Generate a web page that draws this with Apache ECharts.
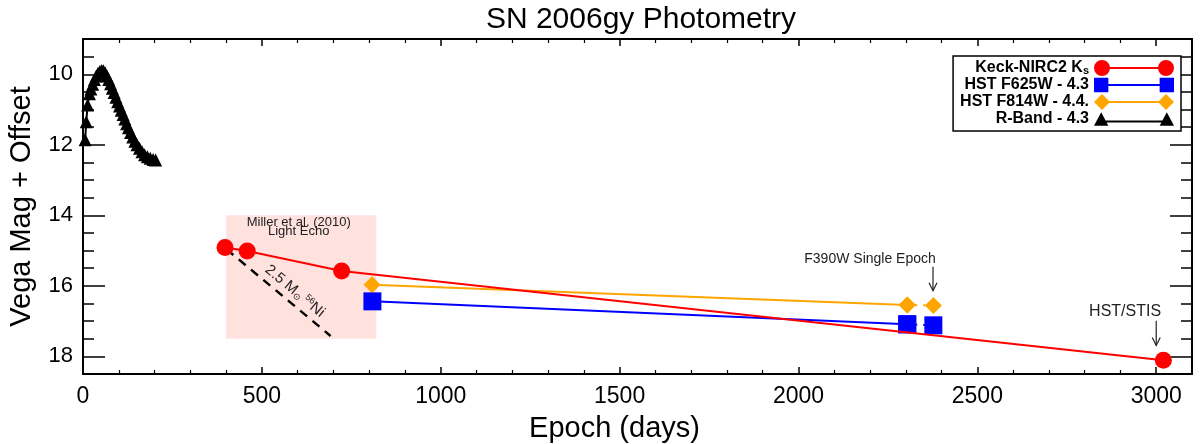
<!DOCTYPE html>
<html>
<head>
<meta charset="utf-8">
<title>SN 2006gy Photometry</title>
<script src="https://cdn.jsdelivr.net/npm/echarts@6/dist/echarts.min.js"></script>
<style>
  html, body { margin: 0; padding: 0; background: #fff; }
  #main { width: 1200px; height: 444px; }
</style>
</head>
<body>
<div id="main"></div>
<script>
// data (epoch in days, Vega mag + offset)
const keckDays = [397, 459, 723, 3020]
const keckMag = [14.91, 15.01, 15.58, 18.11]
const f625Days = [809, 2304, 2377]
const f625Mag = [16.44, 17.09, 17.12]
const f814Days = [808, 2304, 2377]
const f814Mag = [15.97, 16.54, 16.56]
const rDays = [6, 9, 13, 18, 22, 27, 32, 37, 42, 47, 52, 57, 62, 67, 72, 77, 82, 87, 92, 97, 102, 107,
  112, 117, 122, 127, 133, 139, 145, 151, 158, 165, 172, 180, 188, 196, 203]
const rMag = [11.86, 11.35, 10.87, 10.55, 10.42, 10.28, 10.15, 10.05, 9.97, 9.92, 9.89, 9.9, 9.96, 10.05,
  10.15, 10.27, 10.4, 10.52, 10.65, 10.78, 10.9, 11.02, 11.14, 11.27, 11.4, 11.52, 11.65, 11.78, 11.9,
  12.0, 12.1, 12.2, 12.28, 12.34, 12.38, 12.42, 12.43]
const niDays = [401, 692]
const niMag = [14.96, 17.42]
const echoDays = [400, 820]
const echoMag = [14, 17.5]
const yTicks = [10, 12, 14, 16, 18]

const FONT = 'Liberation Sans, Arial, Helvetica, sans-serif'

function pairs(xs, ys) {
  return xs.map((x, i) => [x, ys[i]])
}

const keckName = 'Keck-NIRC2 Ks'
// marker - line - marker, all drawn clockwise so the pieces do not cancel out
const legendIcons = {
  circle: 'path://M0,8a8,8 0 1,1 16,0a8,8 0 1,1 -16,0Z M64,8a8,8 0 1,1 16,0a8,8 0 1,1 -16,0Z M15,7H65V9H15Z',
  square: 'path://M1,1H15V15H1Z M65,1H79V15H65Z M15,7H65V9H15Z',
  diamond: 'path://M0,8L8,0L16,8L8,16Z M64,8L72,0L80,8L72,16Z M8,7H72V9H8Z',
  triangle: 'path://M1,15L8,2L15,15Z M65,15L72,2L79,15Z M8,10H72V12H8Z'
}

function yAxisBase(pos, len, custom) {
  let ax = {
    type: 'value',
    position: pos,
    inverse: true,
    min: 9,
    max: 18.5,
    axisLine: { show: true, lineStyle: { color: '#000', width: 1.8 } },
    splitLine: { show: false },
    axisTick: { show: true, inside: true, length: len, lineStyle: { color: '#000', width: 1.5 } },
    axisLabel: { show: false }
  }
  if (custom) {
    ax.axisTick.customValues = yTicks
  } else {
    ax.interval = 0.5
  }
  return ax
}

function xAxisBase(pos) {
  return {
    type: 'value',
    position: pos,
    min: 0,
    max: 3100,
    interval: 500,
    axisLine: { show: true, lineStyle: { color: '#000', width: 1.8 } },
    splitLine: { show: false },
    axisTick: { show: true, inside: true, length: 7, lineStyle: { color: '#000', width: 1.5 } },
    minorTick: { show: true, splitNumber: 5, length: 4, lineStyle: { color: '#000', width: 1.2 } },
    axisLabel: { show: false }
  }
}

let yLeft = yAxisBase('left', 22, true)
yLeft.axisLabel = {
  show: true,
  customValues: yTicks,
  color: '#000',
  fontSize: 22,
  fontFamily: FONT,
  margin: 10
}
yLeft.name = 'Vega Mag + Offset'
yLeft.nameLocation = 'middle'
yLeft.nameGap = 47
yLeft.nameTextStyle = { color: '#000', fontSize: 29, fontFamily: FONT }

let xBottom = xAxisBase('bottom')
xBottom.axisLabel = {
  show: true,
  color: '#000',
  fontSize: 23,
  fontFamily: FONT,
  margin: 11,
  formatter: v => (v % 500 === 0 ? String(v) : '')
}
xBottom.name = 'Epoch (days)'
xBottom.nameLocation = 'middle'
xBottom.nameGap = 40
xBottom.nameTextStyle = { color: '#000', fontSize: 29, fontFamily: FONT, padding: [0, 46, 0, 0] }

let option = {
  animation: false,
  backgroundColor: '#fff',
  textStyle: { fontFamily: FONT },
  title: {
    text: 'SN 2006gy Photometry',
    left: 636,
    textAlign: 'center',
    top: 0,
    textStyle: { color: '#000', fontSize: 30, fontWeight: 'normal', fontFamily: FONT }
  },
  grid: { left: 83, right: 8, top: 39, bottom: 70, containLabel: false, outerBoundsMode: 'none' },
  legend: {
    orient: 'vertical',
    align: 'right',
    right: 19,
    top: 56,
    padding: [4, 7, 4, 7],
    itemGap: 1,
    itemWidth: 80,
    itemHeight: 16,
    borderColor: '#000',
    borderWidth: 1.5,
    backgroundColor: '#fff',
    selectedMode: false,
    data: [
      { name: keckName, icon: legendIcons.circle },
      { name: 'HST F625W - 4.3', icon: legendIcons.square },
      { name: 'HST F814W - 4.4.', icon: legendIcons.diamond },
      { name: 'R-Band - 4.3', icon: legendIcons.triangle }
    ],
    formatter: function (name) {
      if (name === keckName) {
        return '{b|Keck-NIRC2 K}{s|s}'
      }
      return '{b|' + name + '}'
    },
    textStyle: {
      color: '#000',
      fontSize: 16,
      fontWeight: 'bold',
      fontFamily: FONT,
      rich: {
        b: { fontSize: 16, fontWeight: 'bold', lineHeight: 16, fontFamily: FONT, color: '#000' },
        s: { fontSize: 11, fontWeight: 'bold', lineHeight: 6, verticalAlign: 'bottom', fontFamily: FONT, color: '#000' }
      }
    }
  },
  xAxis: [xBottom, xAxisBase('top')],
  yAxis: [yLeft, yAxisBase('left', 11, false), yAxisBase('right', 22, true), yAxisBase('right', 11, false)],
  series: [
    {
      // light echo box + 56Ni decay line
      name: 'ni',
      type: 'line',
      z: 1,
      data: pairs(niDays, niMag),
      showSymbol: false,
      lineStyle: { color: '#000', width: 2.5, type: [9, 7] },
      markArea: {
        silent: true,
        itemStyle: { color: '#ffe1de', opacity: 1 },
        data: [[{ coord: [echoDays[0], echoMag[0]] }, { coord: [echoDays[1], echoMag[1]] }]]
      }
    },
    {
      name: 'R-Band - 4.3',
      type: 'line',
      z: 3,
      data: pairs(rDays, rMag),
      symbol: 'triangle',
      symbolSize: 13,
      itemStyle: { color: '#000' },
      lineStyle: { color: '#000', width: 2 }
    },
    {
      name: 'HST F814W - 4.4.',
      type: 'line',
      z: 3,
      data: pairs(f814Days, f814Mag).slice(0, 2),
      symbol: 'diamond',
      symbolSize: 17,
      itemStyle: { color: '#ffa500' },
      lineStyle: { color: '#ffa500', width: 2 }
    },
    {
      name: 'f814-dotted',
      type: 'line',
      z: 3,
      data: pairs(f814Days, f814Mag).slice(1),
      symbol: 'diamond',
      symbolSize: 17,
      itemStyle: { color: '#ffa500' },
      lineStyle: { color: '#ffa500', width: 2, type: [2, 6] }
    },
    {
      name: 'HST F625W - 4.3',
      type: 'line',
      z: 3,
      data: pairs(f625Days, f625Mag).slice(0, 2),
      symbol: 'rect',
      symbolSize: 18,
      itemStyle: { color: '#0000ff' },
      lineStyle: { color: '#0000ff', width: 2 }
    },
    {
      name: 'f625-dotted',
      type: 'line',
      z: 3,
      data: pairs(f625Days, f625Mag).slice(1),
      symbol: 'rect',
      symbolSize: 18,
      itemStyle: { color: '#0000ff' },
      lineStyle: { color: '#0000ff', width: 2, type: [2, 6] }
    },
    {
      name: keckName,
      type: 'line',
      z: 4,
      data: pairs(keckDays, keckMag),
      symbol: 'circle',
      symbolSize: 17,
      itemStyle: { color: '#ff0000' },
      lineStyle: { color: '#ff0000', width: 2 }
    }
  ]
}

const chart = echarts.init(document.getElementById('main'))
chart.setOption(option)

// annotations placed in data coordinates
function px(d, m) {
  return chart.convertToPixel({ seriesIndex: 0 }, [d, m])
}

function arrow(d, m0, m1) {
  let a = px(d, m0)
  let b = px(d, m1)
  let style = { stroke: '#222', lineWidth: 1.2, fill: null }
  return [
    { type: 'polyline', shape: { points: [a, b] }, style: style, z: 10 },
    { type: 'polyline', shape: { points: [[b[0] - 4, b[1] - 8], b, [b[0] + 4, b[1] - 8]] }, style: style, z: 10 }
  ]
}

function label(text, d, m, size) {
  let p = px(d, m)
  return {
    type: 'text',
    x: p[0],
    y: p[1],
    z: 10,
    style: { text: text, fill: '#222', font: size + 'px ' + FONT, align: 'center', verticalAlign: 'middle' }
  }
}

let n0 = px(niDays[0], niMag[0])
let n1 = px(niDays[1], niMag[1])
let niAngle = Math.atan2(n1[1] - n0[1], n1[0] - n0[0])
let niPos = px(592, 16.15)

let graphics = [
  label('Miller et al. (2010)', 603, 14.19, 13),
  label('Light Echo', 603, 14.46, 13),
  label('F390W Single Epoch', 2200, 15.24, 14),
  label('HST/STIS', 2913, 16.73, 16),
  {
    type: 'text',
    x: niPos[0],
    y: niPos[1],
    rotation: -niAngle,
    z: 10,
    style: {
      text: '{n|2.5 M}{sub|\u2299} {sup|56}{n|Ni}',
      align: 'center',
      verticalAlign: 'middle',
      fill: '#222',
      rich: {
        n: { fontSize: 15, fontFamily: FONT, lineHeight: 16, fill: '#222' },
        sub: { fontSize: 9, fontFamily: 'DejaVu Sans', lineHeight: 6, verticalAlign: 'bottom', fill: '#222' },
        sup: { fontSize: 9, fontFamily: FONT, lineHeight: 6, verticalAlign: 'top', fill: '#222' }
      }
    }
  }
].concat(arrow(2376, 15.46, 16.14), arrow(3000, 16.99, 17.69))

chart.setOption({ graphic: graphics })
</script>
</body>
</html>
